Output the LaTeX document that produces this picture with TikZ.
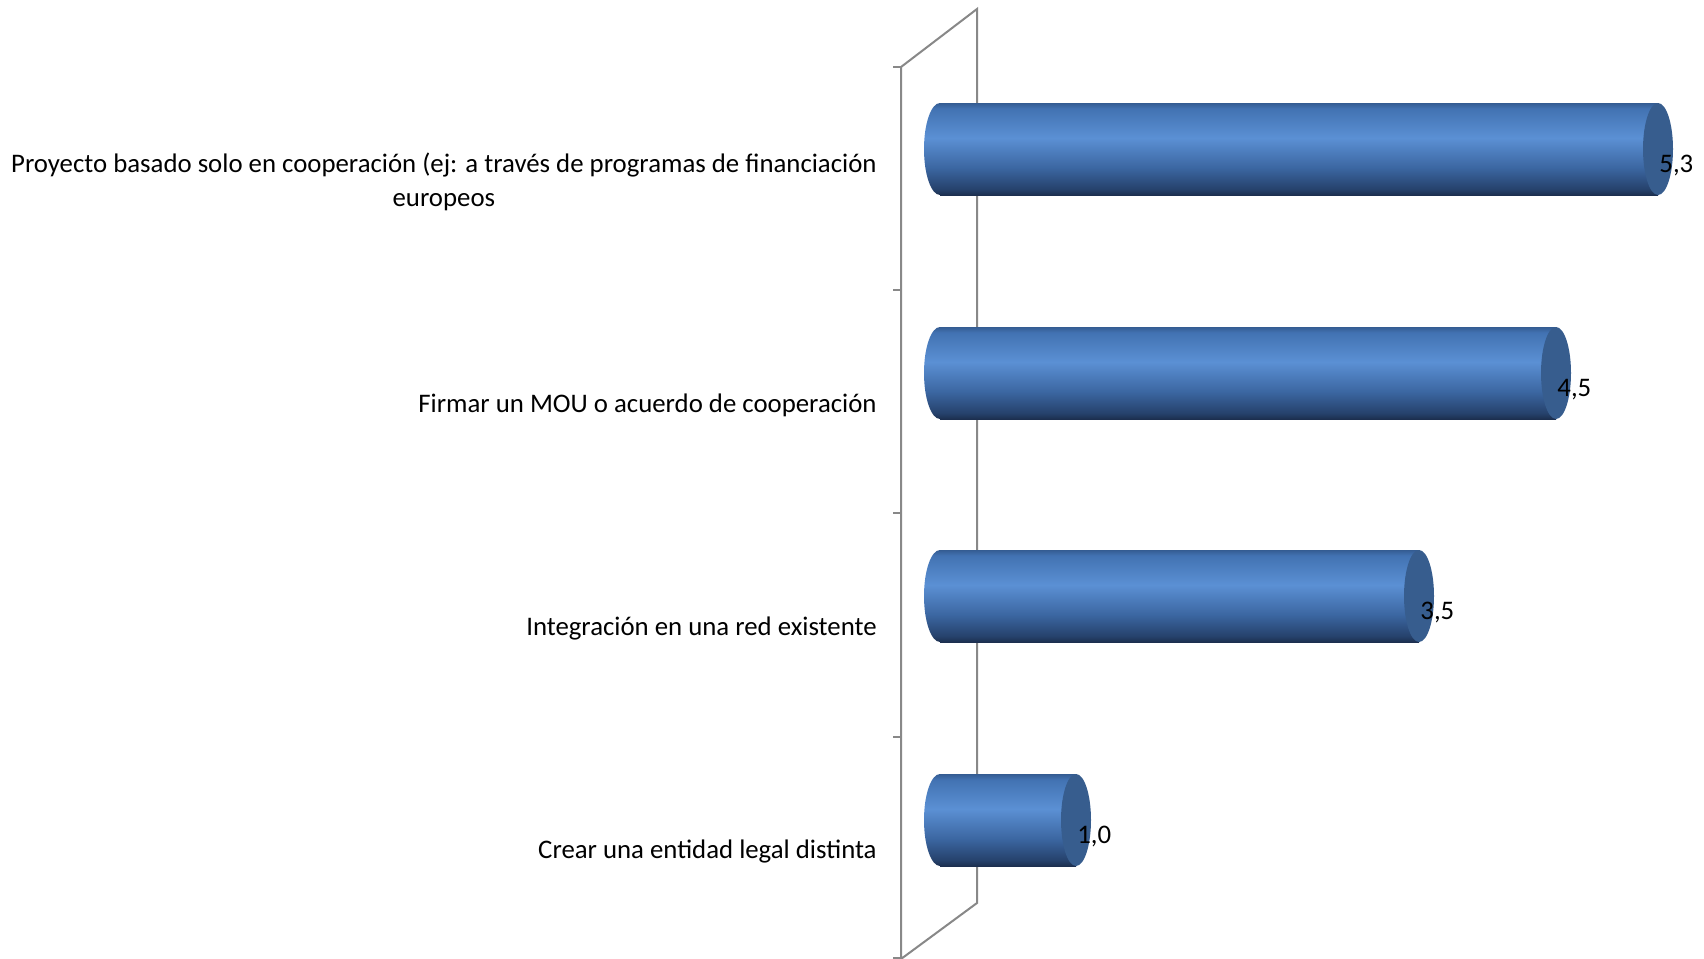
\documentclass[tikz,border=0pt]{standalone}
\usepackage{fontspec}
\setmainfont{Carlito}
\definecolor{cbA}{HTML}{1C2F4F}
\definecolor{cbB}{HTML}{25416B}
\definecolor{cbC}{HTML}{3C67A2}
\definecolor{cbD}{HTML}{5B90D4}
\definecolor{cbE}{HTML}{4272B2}
\definecolor{cbF}{HTML}{345C92}
\definecolor{capcol}{HTML}{375D8E}
\definecolor{framecol}{HTML}{888888}
\pgfdeclareverticalshading{cylbody}{100bp}{color(0bp)=(cbA); color(25bp)=(cbA); color(28bp)=(cbB); color(40bp)=(cbC); color(56bp)=(cbD); color(72bp)=(cbE); color(75bp)=(cbF); color(100bp)=(cbF)}
\newcommand\cylbar[4]{%
  \shade[shading=cylbody] (940,#3) ellipse[x radius=16, y radius=46];
  \shade[shading=cylbody] (940,#3-46) rectangle (#2,#3+46);
  \fill[capcol] (#2,#3) ellipse[x radius=15, y radius=46];
  \node[vallabel, anchor=base west] (#1) at (#2+1,#3+23) {#4};
}
\begin{document}
\begin{tikzpicture}[x=0.5pt,y=-0.5pt,
  frameline/.style={draw=framecol, line width=1pt},
  vallabel/.style={inner sep=0pt, font=\fontsize{13.4}{17}\selectfont},
  catlabel/.style={inner sep=0pt, font=\fontsize{13.4}{17}\selectfont}]
\useasboundingbox (0,0) rectangle (1704,959);
\fill[white] (0,0) rectangle (1704,959);
% frame
\coordinate (fa) at (901,67);
\coordinate (fb) at (977,9);
\coordinate (fc) at (977,903);
\coordinate (fd) at (901,959);
\draw[frameline] (fd) -- (fa) -- (fb) -- (fc) -- (fd);
\foreach \yy in {67,290,513,737,958} {
  \draw[frameline] (893,\yy) -- (901,\yy);
}
% bars
\cylbar{v1}{1658}{149}{5,3}
\cylbar{v2}{1556}{373}{4,5}
\cylbar{v3}{1419}{596}{3,5}
\cylbar{v4}{1076}{820}{1,0}
% category labels
\node[catlabel, anchor=east, align=center] (c1) at (877,182) {Proyecto basado solo en cooperación (ej: a través de programas de financiación\\europeos};
\node[catlabel, anchor=base east] (c2) at (877,412) {Firmar un MOU o acuerdo de cooperación};
\node[catlabel, anchor=base east] (c3) at (877,635) {Integración en una red existente};
\node[catlabel, anchor=base east] (c4) at (877,858) {Crear una entidad legal distinta};
\end{tikzpicture}
\end{document}
